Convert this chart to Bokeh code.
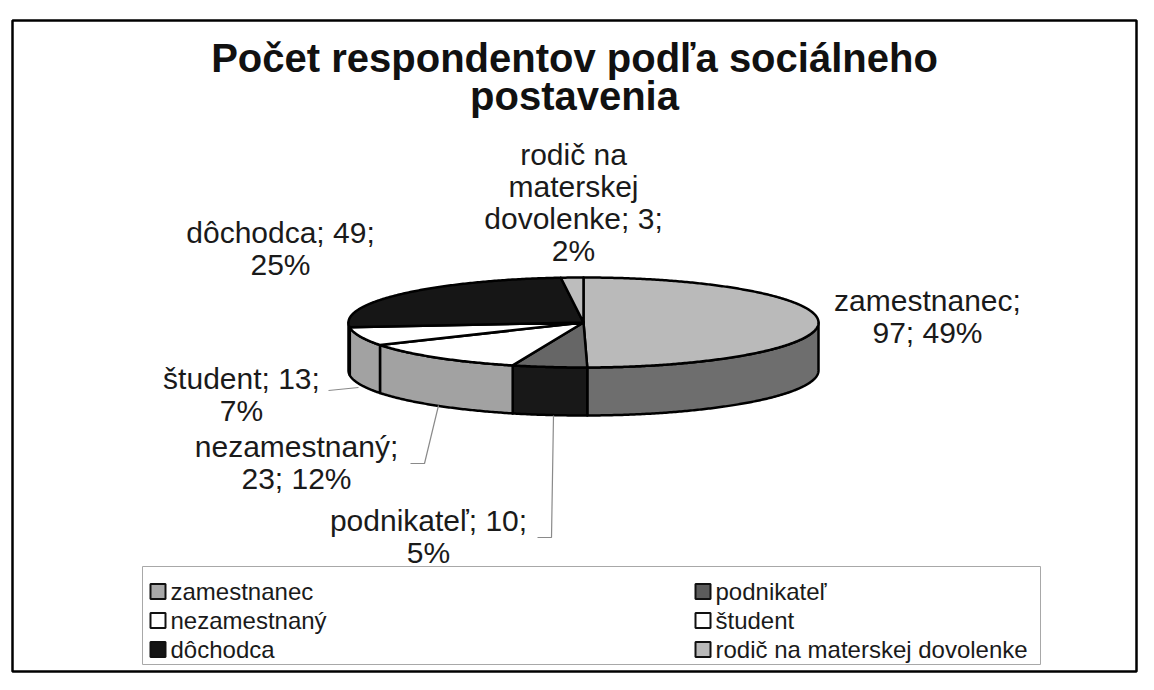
import textwrap
import numpy as np
from bokeh.plotting import figure
from bokeh.models import Range1d
from bokeh.embed import file_html
from bokeh.resources import INLINE
from bokeh.core.properties import value

# ---------------- data ----------------
categories = ["zamestnanec", "podnikateľ", "nezamestnaný", "študent", "dôchodca",
              "rodič na materskej dovolenke"]
counts = [97, 10, 23, 13, 49, 3]
percents = [49, 5, 12, 7, 25, 2]
title_lines = ["Počet respondentov podľa sociálneho", "postavenia"]

# ---------------- styles / layout ----------------
top_colors = ["#bababa", "#666666", "#ffffff", "#ffffff", "#161616", "#bdbdbd"]
side_colors = ["#6e6e6e", "#181818", "#a2a2a2", "#a2a2a2", "#101010", "#8a8a8a"]
legend_colors = ["#a9a9a9", "#5c5c5c", "#ffffff", "#ffffff", "#141414", "#b9b9b9"]
wrap_widths = [13, 15, 13, 12, 13, 13]
label_anchor = [(927, 300), (428, 520), (296, 446), (241, 378), (280, 232), (573, 154)]
line_step = 32
FONT = "Liberation Sans"

W, H = 1138, 674
p = figure(width=W, height=H, output_backend="svg", toolbar_location=None,
           x_range=Range1d(0, W), y_range=Range1d(H, 0),
           min_border=0, outline_line_color=None)
p.axis.visible = False
p.grid.visible = False
p.background_fill_color = "white"
p.border_fill_color = "white"

# outer frame
p.quad(left=[12], right=[1136], top=[20], bottom=[671], fill_color=None,
       line_color="black", line_width=2.5)

# title
for i, t in enumerate(title_lines):
    p.text(x=[574], y=[57 + 38 * i], text=[t], text_font=value(FONT),
           text_font_style="bold", text_font_size="40px", text_color="#111111",
           text_align="center", text_baseline="middle")

# ---------------- 3D pie ----------------
cx, cy, rx, ry, depth = 583, 322, 235, 45, 48
total = sum(counts)
bounds = np.concatenate([[0], np.cumsum(counts)]) / total * 360.0


def arc(a0, a1):
    n = max(3, int(abs(a1 - a0) * 2))
    t = np.radians(np.linspace(a0, a1, n))
    return cx + rx * np.sin(t), cy - ry * np.cos(t)


side_xs, side_ys, side_fill = [], [], []
for i in range(len(counts)):
    a0 = max(bounds[i], 90.0)
    a1 = min(bounds[i + 1], 270.0)
    if a1 > a0:
        x1, y1 = arc(a0, a1)
        side_xs.append(list(x1) + list(x1[::-1]))
        side_ys.append(list(y1) + list((y1 + depth)[::-1]))
        side_fill.append(side_colors[i])
p.patches(side_xs, side_ys, fill_color=side_fill, line_color="black", line_width=2.5,
          line_join="round")

top_xs, top_ys = [], []
for i in range(len(counts)):
    x1, y1 = arc(bounds[i], bounds[i + 1])
    top_xs.append([cx] + list(x1))
    top_ys.append([cy] + list(y1))
p.patches(top_xs, top_ys, fill_color=top_colors, line_color="black", line_width=2.5,
          line_join="round")

# leader lines
p.multi_line(xs=[[328, 358], [410, 424, 438], [537, 551, 553]],
             ys=[[390, 387], [463, 463, 405], [537, 537, 415]],
             line_color="#8a8a8a", line_width=1.2)

# data labels
for i, cat in enumerate(categories):
    full = f"{cat}; {counts[i]}; {percents[i]}%"
    lines = textwrap.wrap(full, width=wrap_widths[i], break_long_words=False)
    ax, ay = label_anchor[i]
    p.text(x=[ax] * len(lines), y=[ay + line_step * k for k in range(len(lines))],
           text=lines, text_font=value(FONT), text_font_size="30px",
           text_color="#1a1a1a", text_align="center", text_baseline="middle")

# ---------------- legend ----------------
p.quad(left=[142], right=[1040], top=[566], bottom=[664], fill_color="white",
       line_color="#a8a8a8", line_width=1)
col_x = [150, 695]
row_y = [591, 620, 649]
sq = 15
for i, cat in enumerate(categories):
    r, c = divmod(i, 2)
    x0, y0 = col_x[c], row_y[r]
    p.quad(left=[x0], right=[x0 + sq], top=[y0 - sq / 2], bottom=[y0 + sq / 2],
           fill_color=legend_colors[i], line_color="#111111", line_width=2)
    p.text(x=[x0 + sq + 5], y=[y0], text=[cat], text_font=value(FONT),
           text_font_size="24px", text_color="#1a1a1a", text_align="left",
           text_baseline="middle")

open("out.html", "w").write(file_html(p, INLINE))
